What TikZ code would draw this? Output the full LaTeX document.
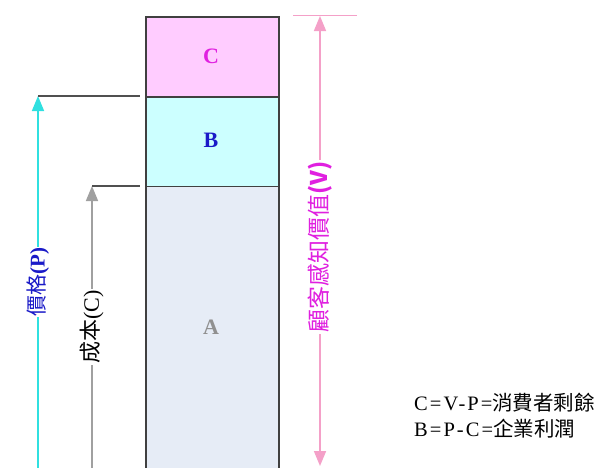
\documentclass[tikz,border=0pt]{standalone}
\usepackage{fontspec}
\setmainfont{Liberation Serif}
\newfontfamily\cjk{Noto Sans CJK TC}
\newfontfamily\spaced{Liberation Serif}[LetterSpace=10]
\usetikzlibrary{arrows.meta}
\definecolor{cfill}{HTML}{FFCCFF}
\definecolor{bfill}{HTML}{CCFFFF}
\definecolor{afill}{HTML}{E6ECF6}
\definecolor{edge}{HTML}{404040}
\definecolor{magtext}{HTML}{E020E0}
\definecolor{bluetext}{HTML}{1A1AC8}
\definecolor{graytext}{HTML}{909090}
\definecolor{cyanline}{HTML}{30E0E0}
\definecolor{grayline}{HTML}{A0A0A0}
\definecolor{pinkline}{HTML}{F4A0C8}
\definecolor{darkline}{HTML}{505050}
\tikzset{
  part/.style={draw=edge, line width=1.8pt, minimum width=133pt, inner sep=0pt, anchor=north west},
  letter/.style={font=\fontsize{22}{22}\selectfont\bfseries},
  vlabel/.style={fill=white, inner sep=1pt, rotate=90, font=\fontsize{21}{21}\selectfont},
  bigtip/.tip={Triangle[length=15pt,width=12pt]},
  tipend/.style={-bigtip},
  lead/.style={draw=darkline, line width=1.6pt},
  note/.style={font=\fontsize{20.5}{20.5}\selectfont, anchor=west, inner sep=0pt}
}
\begin{document}
\begin{tikzpicture}[x=1pt,y=-1pt]
\clip (0,0) rectangle (605,467);
\fill[white] (0,0) rectangle (605,467);
% boxes
\node[part, fill=afill, minimum height=300pt] (boxA) at (145,185.5) {};
\node[part, fill=bfill, minimum height=89.5pt] (boxB) at (145,96) {};
\node[part, fill=cfill, minimum height=80pt] (boxC) at (145,16) {};
\node[letter, text=magtext] (lc) at (211,56) {C};
\node[letter, text=bluetext] (lb) at (211,140) {B};
\node[letter, text=graytext] (la) at (211,327) {A};
% price arrow
\coordinate (pbot) at (38,470);
\coordinate (ptop) at (38,96);
\coordinate (pend) at (140,96);
\draw[cyanline, line width=1.6pt, tipend] (pbot) -- (ptop);
\draw[lead] (ptop) -- (pend);
\node[vlabel, text=bluetext] (plabel) at (38,282) {{\cjk 價格}\textbf{(P)}};
% cost arrow
\coordinate (cbot) at (92,470);
\coordinate (ctop) at (92,186);
\coordinate (cend) at (140,186);
\draw[grayline, line width=1.6pt, tipend] (cbot) -- (ctop);
\draw[lead] (ctop) -- (cend);
\node[vlabel, text=black, font=\fontsize{22}{22}\selectfont] (clabel) at (92,327) {{\cjk 成本}(C)};
% value arrow
\coordinate (vl) at (293,15.5);
\coordinate (vr) at (357,15.5);
\coordinate (vtop) at (320,16);
\coordinate (vbot) at (320,466);
\draw[pinkline, line width=1.8pt] (vl) -- (vr);
\draw[pinkline, line width=1.6pt, bigtip-bigtip] (vtop) -- (vbot);
\node[vlabel, text=magtext, font=\fontsize{23}{23}\selectfont] (vlabel) at (320,247) {\cjk 顧客感知價值\textbf{(V)}};
% notes
\node[note] (n1) at (414,403) {\spaced C=V-P=\cjk 消費者剩餘};
\node[note] (n2) at (414,429) {\spaced B=P-C=\cjk 企業利潤};
\end{tikzpicture}
\end{document}
